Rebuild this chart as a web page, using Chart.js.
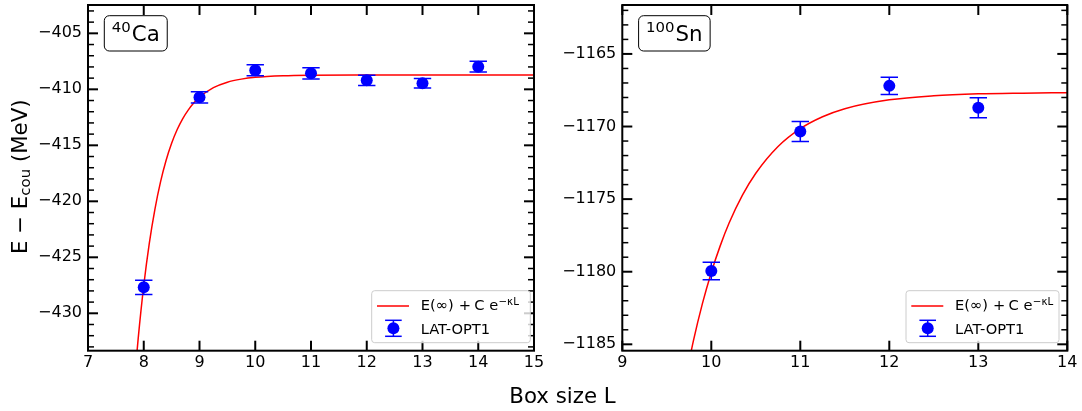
<!DOCTYPE html>
<html>
<head>
<meta charset="utf-8">
<script src="https://cdn.jsdelivr.net/npm/chart.js@4"></script>
<style>
  html, body { margin: 0; padding: 0; background: #fff; overflow: hidden; }
  #wrap { position: relative; width: 1082px; height: 411px; overflow: hidden; background: #fff; }
  canvas { position: absolute; left: 0; top: -20px; }
</style>
</head>
<body>
<div id="wrap">
  <canvas id="ca" width="1082" height="431"></canvas>
  <canvas id="sn" width="1082" height="431"></canvas>
</div>
<script>
// ---- 40Ca: energies vs box size ----
const caL     = [8, 9, 10, 11, 12, 13, 14];
const caE     = [-427.68, -410.71, -408.30, -408.57, -409.20, -409.46, -407.98];
const caErr   = [0.64, 0.50, 0.49, 0.50, 0.46, 0.43, 0.48];
// fitted curve E(inf) + C exp(-kappa L), sampled
const caFitL  = [7.85, 7.9, 8.0, 8.1, 8.2, 8.3, 8.4, 8.5, 8.6, 8.7, 8.8, 8.9, 9.0, 9.25, 9.5, 9.75, 10, 10.5, 11, 12, 13, 14, 15];
const caFitE  = [-435.07, -432.26, -427.52, -423.73, -420.71, -418.29, -416.36, -414.82, -413.59, -412.61, -411.83, -411.20, -410.70, -409.85, -409.36, -409.09, -408.93, -408.79, -408.74, -408.72, -408.72, -408.72, -408.72];
const caXTicks = [7, 8, 9, 10, 11, 12, 13, 14, 15];
const caYTicks = [-430, -425, -420, -415, -410, -405];

// ---- 100Sn: energies vs box size ----
const snL     = [10, 11, 12, 13];
const snE     = [-1179.95, -1170.34, -1167.20, -1168.70];
const snErr   = [0.61, 0.69, 0.60, 0.69];
const snFitL  = [9.7, 9.8, 9.9, 10.0, 10.1, 10.2, 10.35, 10.5, 10.75, 11.0, 11.25, 11.5, 12.0, 12.5, 13.0, 13.5, 14.0];
const snFitE  = [-1187.69, -1184.73, -1182.20, -1180.05, -1178.22, -1176.65, -1174.73, -1173.22, -1171.38, -1170.15, -1169.33, -1168.77, -1168.16, -1167.88, -1167.75, -1167.70, -1167.67];
const snXTicks = [9, 10, 11, 12, 13, 14];
const snYTicks = [-1185, -1180, -1175, -1170, -1165];

const OFF = 20;                 // canvases start 20px above the page
const FAM = '"DejaVu Sans"';
const minus = v => String(v).replace('-', '\u2212');

function roundRect(ctx, x, y, w, h, r) {
  ctx.beginPath();
  ctx.moveTo(x + r, y);
  ctx.arcTo(x + w, y, x + w, y + h, r);
  ctx.arcTo(x + w, y + h, x, y + h, r);
  ctx.arcTo(x, y + h, x, y, r);
  ctx.arcTo(x, y, x + w, y, r);
  ctx.closePath();
}

function makeDecor(o) {
  return {
    id: 'decor',
    // error bars: after the fit curve, before the markers
    afterDatasetDraw(chart, args) {
      if (args.index !== 1) return;
      const { ctx, scales: { x, y } } = chart;
      const cap = 8.7;
      ctx.save();
      ctx.strokeStyle = 'blue';
      ctx.lineWidth = 1.5;
      o.L.forEach((L, i) => {
        const px = x.getPixelForValue(L);
        const y1 = y.getPixelForValue(o.E[i] - o.err[i]);
        const y2 = y.getPixelForValue(o.E[i] + o.err[i]);
        ctx.beginPath();
        ctx.moveTo(px, y1); ctx.lineTo(px, y2);
        ctx.moveTo(px - cap, y1); ctx.lineTo(px + cap, y1);
        ctx.moveTo(px - cap, y2); ctx.lineTo(px + cap, y2);
        ctx.stroke();
      });
      ctx.restore();
    },
    afterDraw(chart) {
      const { ctx, chartArea: a, scales: { x, y } } = chart;
      ctx.save();
      ctx.strokeStyle = '#000';
      ctx.fillStyle = '#000';
      const seg = (x1, y1, x2, y2) => { ctx.beginPath(); ctx.moveTo(x1, y1); ctx.lineTo(x2, y2); ctx.stroke(); };

      // inward major ticks on all four sides
      ctx.lineWidth = 2;
      y.ticks.forEach(t => {
        const py = y.getPixelForValue(t.value);
        seg(a.left, py, a.left + 10, py);
        seg(a.right, py, a.right - 10, py);
      });
      x.ticks.forEach(t => {
        const px = x.getPixelForValue(t.value);
        seg(px, a.bottom, px, a.bottom - 10);
        seg(px, a.top, px, a.top + 10);
      });
      // minor ticks on the energy axis, every 1 MeV
      ctx.lineWidth = 1.5;
      for (let v = Math.ceil(y.min); v <= y.max; v++) {
        if (v % 5 === 0) continue;
        const py = y.getPixelForValue(v);
        seg(a.left, py, a.left + 6, py);
        seg(a.right, py, a.right - 6, py);
      }
      // frame
      ctx.lineWidth = 2;
      ctx.strokeRect(a.left, a.top, a.right - a.left, a.bottom - a.top);

      // nucleus tag in the upper left corner
      const supF = '14.93px ' + FAM, mainF = '21.33px ' + FAM;
      ctx.font = supF;  const ws = ctx.measureText(o.tagMass).width;
      ctx.font = mainF; const wm = ctx.measureText(o.tagName).width;
      const bx = a.left + 16.3, by = a.top + 10.7, bw = ws + wm + 16, bh = 35.3;
      ctx.lineWidth = 1;
      roundRect(ctx, bx, by, bw, bh, 5);
      ctx.fillStyle = '#fff'; ctx.fill();
      ctx.strokeStyle = '#000'; ctx.stroke();
      ctx.fillStyle = '#000';
      ctx.textAlign = 'left'; ctx.textBaseline = 'alphabetic';
      ctx.font = supF;  ctx.fillText(o.tagMass, bx + 7.5, by + 15.9);
      ctx.font = mainF; ctx.fillText(o.tagName, bx + 7.5 + ws + 1, by + 24.8);

      // legend box, lower right
      const lw = o.legendW, lh = 52;
      const lx = a.right - o.legendGap - lw, ly = a.bottom - 8 - lh;
      roundRect(ctx, lx, ly, lw, lh, 3);
      ctx.fillStyle = 'rgba(255,255,255,0.8)'; ctx.fill();
      ctx.strokeStyle = '#cccccc'; ctx.lineWidth = 1; ctx.stroke();
      // fit entry
      ctx.strokeStyle = 'red'; ctx.lineWidth = 1.5;
      seg(lx + 5.3, ly + 15.3, lx + 37.3, ly + 15.3);
      const tx = lx + 49, legF = '14.67px ' + FAM;
      ctx.fillStyle = '#000'; ctx.font = legF;
      ctx.fillText('E(\u221E)', tx, ly + 19.1);
      ctx.fillText('+', tx + 38, ly + 19.1);
      ctx.fillText('C', tx + 53.5, ly + 19.1);
      ctx.fillText('e', tx + 68.5, ly + 19.1);
      ctx.font = '10.27px ' + FAM;
      ctx.fillText('\u2212\u03BAL', tx + 77.8, ly + 14.2);
      // data entry
      const mx = lx + 21.7, my = ly + 37.6;
      ctx.strokeStyle = 'blue'; ctx.lineWidth = 1.5;
      seg(mx, my - 8, mx, my + 8);
      seg(mx - 8.3, my - 8, mx + 8.3, my - 8);
      seg(mx - 8.3, my + 8, mx + 8.3, my + 8);
      ctx.fillStyle = 'blue';
      ctx.beginPath(); ctx.arc(mx, my, 6, 0, Math.PI * 2); ctx.fill();
      ctx.fillStyle = '#000'; ctx.font = legF;
      ctx.fillText('LAT-OPT1', tx, ly + 42.8);

      // shared figure labels
      if (o.figureLabels) {
        const big = '21.33px ' + FAM, small = '14.93px ' + FAM;
        ctx.save();
        ctx.translate(26.7, 176.7 + OFF);
        ctx.rotate(-Math.PI / 2);
        ctx.font = big;   const w1 = ctx.measureText('E \u2212 E').width;
        const w3 = ctx.measureText(' (MeV)').width;
        ctx.font = small; const w2 = ctx.measureText('cou').width;
        const x0 = -(w1 + w2 + w3) / 2;
        ctx.font = big;   ctx.fillText('E \u2212 E', x0, 0);
        ctx.font = small; ctx.fillText('cou', x0 + w1, 3.5);
        ctx.font = big;   ctx.fillText(' (MeV)', x0 + w1 + w2, 0);
        ctx.restore();
        ctx.font = big;
        ctx.textAlign = 'center';
        ctx.fillText('Box size L', 562.5, 403.3 + OFF);
      }
      ctx.restore();
    }
  };
}

function buildChart(id, o) {
  const tickFont = { family: 'DejaVu Sans', size: 16 };
  return new Chart(document.getElementById(id), {
    type: 'scatter',
    data: {
      datasets: [
        {
          label: 'LAT-OPT1',
          data: o.L.map((v, i) => ({ x: v, y: o.E[i] })),
          pointBackgroundColor: 'blue',
          pointBorderColor: 'blue',
          pointBorderWidth: 0,
          pointRadius: 6,
          pointHoverRadius: 6
        },
        {
          label: 'fit',
          data: o.fitL.map((v, i) => ({ x: v, y: o.fitE[i] })),
          showLine: true,
          borderColor: 'red',
          borderWidth: 1.5,
          pointRadius: 0,
          pointHoverRadius: 0,
          cubicInterpolationMode: 'monotone',
          fill: false
        }
      ]
    },
    options: {
      responsive: false,
      animation: false,
      events: [],
      layout: { padding: { left: o.padLeft, right: o.padRight, top: 25, bottom: 0 } },
      plugins: { legend: { display: false }, tooltip: { enabled: false } },
      scales: {
        x: {
          type: 'linear', min: o.xMin, max: o.xMax,
          afterBuildTicks: s => { s.ticks = o.xTicks.map(v => ({ value: v })); },
          afterFit: s => { s.height = 60.3; },
          grid: { display: false, drawTicks: false },
          border: { display: false },
          ticks: { font: tickFont, color: '#000', padding: 3, maxRotation: 0, autoSkip: false, callback: minus }
        },
        y: {
          type: 'linear', min: o.yMin, max: o.yMax,
          afterBuildTicks: s => { s.ticks = o.yTicks.map(v => ({ value: v })); },
          afterFit: s => { s.width = o.yWidth; },
          grid: { display: false, drawTicks: false },
          border: { display: false },
          ticks: { font: tickFont, color: '#000', padding: 6, autoSkip: false, callback: minus }
        }
      }
    },
    plugins: [makeDecor(o)]
  });
}

buildChart('ca', {
  L: caL, E: caE, err: caErr, fitL: caFitL, fitE: caFitE,
  xTicks: caXTicks, yTicks: caYTicks,
  xMin: 7, xMax: 15, yMin: -433.34, yMax: -402.47,
  padLeft: 0, yWidth: 88, padRight: 548,
  tagMass: '40', tagName: 'Ca', legendW: 158.6, legendGap: 3.7,
  figureLabels: true
});

buildChart('sn', {
  L: snL, E: snE, err: snErr, fitL: snFitL, fitE: snFitE,
  xTicks: snXTicks, yTicks: snYTicks,
  xMin: 9, xMax: 14, yMin: -1185.44, yMax: -1161.63,
  padLeft: 542.3, yWidth: 80, padRight: 14.7,
  tagMass: '100', tagName: 'Sn', legendW: 153, legendGap: 8.3,
  figureLabels: false
});
</script>
</body>
</html>
